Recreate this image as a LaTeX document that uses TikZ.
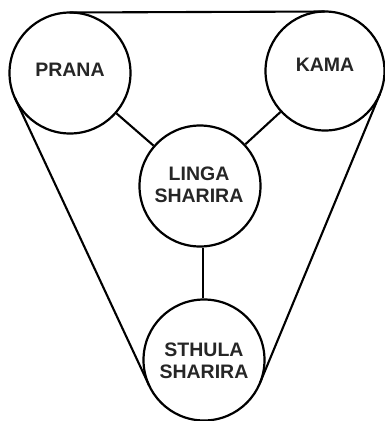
\documentclass[tikz,border=0pt]{standalone}
\usepackage{fontspec}
\setmainfont{Liberation Sans}
\usetikzlibrary{calc}
\begin{document}
\begin{tikzpicture}[x=1pt,y=-1pt,
  ring/.style={circle,draw=black,line width=2.2pt,minimum size=121pt,inner sep=0pt},
  lbl/.style={font=\fontsize{19.5}{22}\selectfont\bfseries,text=black!85,align=center},
  link/.style={line width=2.1pt,draw=black}]
\useasboundingbox (0,0) rectangle (385,421);
\node[ring] (P) at (70,73) {};
\node[ring,minimum size=119pt] (K) at (325,71) {};
\node[ring] (L) at (200,186) {};
\node[ring] (S) at (204,360) {};
\node[lbl] (pt) at (70,70) {PRANA};
\node[lbl] (kt) at (325,65) {KAMA};
\node[lbl] (lt) at (199,185) {LINGA\\SHARIRA};
\node[lbl] (st) at (204,361) {STHULA\\SHARIRA};
\draw[link] (P) -- (L);
\draw[link] (K) -- (L);
\draw[link] (L.south -| 203,0) -- (S.north -| 203,0);
\draw[link] ($(P.center)!60.5pt!90:(K.center)$) -- ($(K.center)!59.5pt!-90:(P.center)$);
\draw[link] ($(P.center)!60.5pt!-90:(S.center)$) -- ($(S.center)!60.5pt!90:(P.center)$);
\draw[link] ($(K.center)!59.5pt!90:(S.center)$) -- ($(S.center)!60.5pt!-90:(K.center)$);
\end{tikzpicture}
\end{document}
